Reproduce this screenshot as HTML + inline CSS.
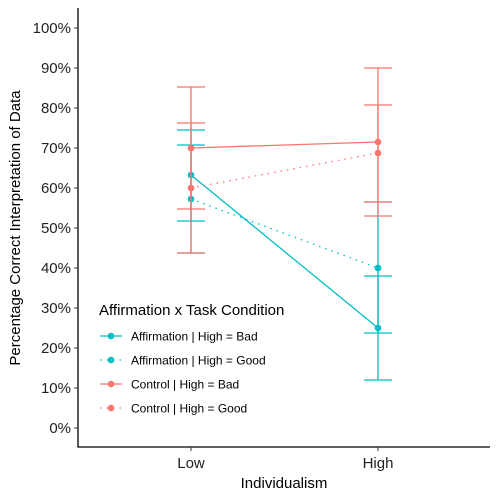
<!DOCTYPE html>
<html><head><meta charset="utf-8"><style>body{margin:0;background:#fff}svg{display:block;font-family:"Liberation Sans",Arial,sans-serif}</style></head>
<body>
<svg id="c" width="500" height="500">
<g id="axes"></g><g id="marks"></g><g id="legend"></g>
</svg>
<script>
const categories=["Low","High"];
const seriesNames=["Affirmation | High = Bad","Affirmation | High = Good","Control | High = Bad","Control | High = Good"];
const seriesColors=["#00BFC4","#00BFC4","#F8766D","#F8766D"];
const seriesDotted=[false,true,false,true];
const affBad=[63.25,25];
const affBadLo=[51.75,12];
const affBadHi=[74.5,38];
const affGood=[57.25,40];
const affGoodLo=[43.75,23.75];
const affGoodHi=[70.75,56.5];
const ctlBad=[70,71.5];
const ctlBadLo=[54.75,53];
const ctlBadHi=[85.25,90];
const ctlGood=[60,68.75];
const ctlGoodLo=[43.75,56.5];
const ctlGoodHi=[76.25,80.75];
const yTicks=[0,10,20,30,40,50,60,70,80,90,100];
const vals=[affBad,affGood,ctlBad,ctlGood],los=[affBadLo,affGoodLo,ctlBadLo,ctlGoodLo],his=[affBadHi,affGoodHi,ctlBadHi,ctlGoodHi];
const NS="http://www.w3.org/2000/svg";
const y=v=>428-v*4, x=i=>191+i*187;
function mk(p,t,a){const e=document.createElementNS(NS,t);for(const k in a)e.setAttribute(k,a[k]);p.appendChild(e);return e;}
const ax=document.getElementById('axes'),mg=document.getElementById('marks'),lg=document.getElementById('legend');
let e=mk(ax,'line',{x1:78,y1:8,x2:78,y2:447.5,stroke:'#000','stroke-width':1.3});

e=mk(ax,'line',{x1:77.5,y1:447,x2:490,y2:447,stroke:'#000','stroke-width':1.3});

yTicks.forEach(v=>{mk(ax,'line',{x1:74,x2:78,y1:y(v),y2:y(v),stroke:'#333'});
 const t=mk(ax,'text',{x:71,y:y(v)+5,'text-anchor':'end','font-size':15,fill:'#222'});t.textContent=v+'%';
 });
categories.forEach((c,i)=>{mk(ax,'line',{x1:x(i),x2:x(i),y1:447,y2:451,stroke:'#333'});
 const t=mk(ax,'text',{x:x(i),y:468,'text-anchor':'middle','font-size':15,fill:'#222'});t.textContent=c;
 });
e=mk(ax,'text',{x:284,y:488,'text-anchor':'middle','font-size':15,fill:'#000'});e.textContent='Individualism';

e=mk(ax,'text',{x:20,y:228,'text-anchor':'middle','font-size':15,fill:'#000',transform:'rotate(-90 20 228)'});e.textContent='Percentage Correct Interpretation of Data';

vals.forEach((s,k)=>{const col=seriesColors[k];
 categories.forEach((c,i)=>{const g=mk(mg,'g',{stroke:col,'stroke-width':1.3});
  
  mk(g,'line',{x1:x(i),x2:x(i),y1:y(los[k][i]),y2:y(his[k][i])});
  mk(g,'line',{x1:x(i)-14,x2:x(i)+14,y1:y(los[k][i]),y2:y(los[k][i])});
  mk(g,'line',{x1:x(i)-14,x2:x(i)+14,y1:y(his[k][i]),y2:y(his[k][i])});});
 const l=mk(mg,'line',{x1:x(0),y1:y(s[0]),x2:x(1),y2:y(s[1]),stroke:col,'stroke-width':1.3});
 if(seriesDotted[k])l.setAttribute('stroke-dasharray','1.5 5');
 
 s.forEach((v,i)=>{const p=mk(mg,'circle',{cx:x(i),cy:y(v),r:3.3,fill:col});
  });});
e=mk(lg,'text',{x:99,y:315,'font-size':15,fill:'#000'});e.textContent='Affirmation x Task Condition';

seriesNames.forEach((n,k)=>{const yy=336+k*24,col=seriesColors[k];
 const g=mk(lg,'g',{});
 const l=mk(g,'line',{x1:100,x2:122,y1:yy,y2:yy,stroke:col,'stroke-width':1.3});
 if(seriesDotted[k])l.setAttribute('stroke-dasharray','1.5 5');
 mk(g,'circle',{cx:111,cy:yy,r:3.3,fill:col});
 const t=mk(g,'text',{x:131,y:yy+4.5,'font-size':12,fill:'#000'});t.textContent=n;});
</script>
</body></html>
